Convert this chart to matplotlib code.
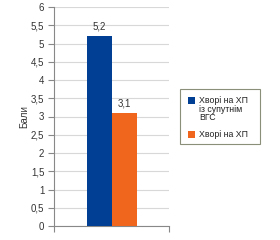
import matplotlib
matplotlib.use("Agg")
import matplotlib.pyplot as plt
from matplotlib.patches import Rectangle

plt.rcParams['font.family'] = ['Liberation Sans', 'DejaVu Sans']

series_names = ["Хворі на ХП\nіз супутнім\nВГС", "Хворі на ХП"]
values = [5.2, 3.1]
value_labels = ["5,2", "3,1"]
colors = ["#003f94", "#f0661c"]
yticks = [0, 0.5, 1, 1.5, 2, 2.5, 3, 3.5, 4, 4.5, 5, 5.5, 6]
ytick_labels = ["0", "0,5", "1", "1,5", "2", "2,5", "3", "3,5", "4", "4,5", "5", "5,5", "6"]
ylabel = "Бали"

W, H = 280, 240
fig = plt.figure(figsize=(2.8, 2.4), dpi=100)
ax = fig.add_axes([54/W, 14/H, 115/W, 219/H])

w = 25/115
offsets = [-w/2, w/2]
for v, c, o, lab in zip(values, colors, offsets, value_labels):
    ax.bar(o, v, width=w, color=c, zorder=3)
    ax.text(o, v + 0.12, lab, ha='center', va='bottom', fontsize=7, color='#333333')

ax.set_xlim(-0.5, 0.5)
ax.set_ylim(0, 6)
ax.set_yticks(yticks)
ax.set_yticklabels(ytick_labels, fontsize=7, color='#333333')
ax.set_xticks([-0.5, 0.5])
ax.set_xticklabels([])
ax.tick_params(axis='x', length=4, color='#888888', width=0.8)
ax.tick_params(axis='y', length=4, color='#888888', width=0.8, pad=3)
ax.grid(axis='y', color='#d8d8d8', linewidth=0.8, zorder=0)
for s in ['top', 'right']:
    ax.spines[s].set_visible(False)
for s in ['left', 'bottom']:
    ax.spines[s].set_color('#888888')
    ax.spines[s].set_linewidth(0.8)
ax.set_ylabel(ylabel, fontsize=7, color='#333333', labelpad=1)

# Legend drawn manually (handles aligned to the first text line, as in the reference)
def fx(px):
    return px / W

def fy(py):
    return 1 - py / H

fig.patches.append(Rectangle((fx(180), fy(144)), fx(80), 55 / H, transform=fig.transFigure,
                             facecolor='white', edgecolor='#8a8f7a', linewidth=0.8))
entry_tops = [96.5, 130.5]
for name, c, top in zip(series_names, colors, entry_tops):
    fig.patches.append(Rectangle((fx(188), fy(top + 7)), 7 / W, 7 / H, transform=fig.transFigure,
                                 facecolor=c, edgecolor='none'))
    fig.text(fx(199), fy(top - 0.5), name, ha='left', va='top', fontsize=6.3,
             color='#222222', linespacing=0.95)

fig.savefig("out.png", dpi=100)
